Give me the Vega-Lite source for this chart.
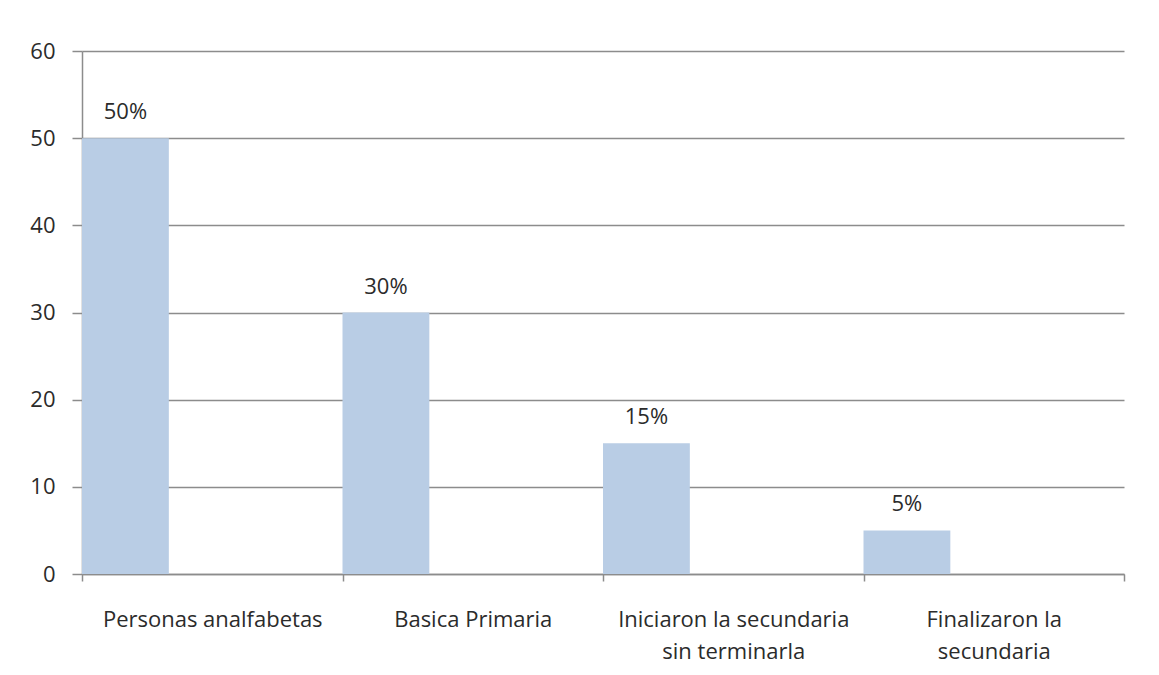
{
  "$schema": "https://vega.github.io/schema/vega-lite/v6.json",
  "width": 1042,
  "height": 523,
  "autosize": "none",
  "padding": {"left": 82, "top": 51, "right": 35, "bottom": 101},
  "background": "white",
  "config": {
    "view": {"stroke": null},
    "font": "Open Sans",
    "axis": {"labelFont": "Open Sans", "labelFontSize": 22, "labelColor": "#2b2b2b", "domainColor": "#8c8c8c", "tickColor": "#8c8c8c", "gridColor": "#8c8c8c", "domainWidth": 1.5, "tickWidth": 1.5, "gridWidth": 1.5, "gridOpacity": 1, "labelLimit": 400}
  },
  "data": {
    "values": [
      {"categoria": "Personas analfabetas", "serie": "A", "valor": 50, "etiqueta": "50%"},
      {"categoria": "Basica Primaria", "serie": "A", "valor": 30, "etiqueta": "30%"},
      {"categoria": "Iniciaron la secundaria|sin terminarla", "serie": "A", "valor": 15, "etiqueta": "15%"},
      {"categoria": "Finalizaron la|secundaria", "serie": "A", "valor": 5, "etiqueta": "5%"}
    ]
  },
  "encoding": {
    "x": {
      "field": "categoria", "type": "nominal", "sort": null,
      "scale": {"paddingInner": 0, "paddingOuter": 0},
      "axis": {"title": null, "labelAngle": 0, "labelExpr": "split(datum.label, '|')", "labelLineHeight": 32, "tickBand": "extent", "tickSize": 7, "labelPadding": 28, "labelBaseline": "top"}
    },
    "xOffset": {"field": "serie", "type": "nominal", "scale": {"domain": ["A", "B", "C"], "paddingInner": 0, "paddingOuter": 0}},
    "y": {
      "field": "valor", "type": "quantitative",
      "scale": {"domain": [0, 60]},
      "axis": {"title": null, "values": [0, 10, 20, 30, 40, 50, 60], "tickSize": 10, "labelPadding": 17, "grid": true}
    }
  },
  "layer": [
    {"mark": {"type": "bar", "color": "#b9cde5"}},
    {"mark": {"type": "text", "fontSize": 22, "color": "#2b2b2b", "baseline": "alphabetic", "dy": -19, "font": "Open Sans"}, "encoding": {"text": {"field": "etiqueta"}}}
  ]
}
